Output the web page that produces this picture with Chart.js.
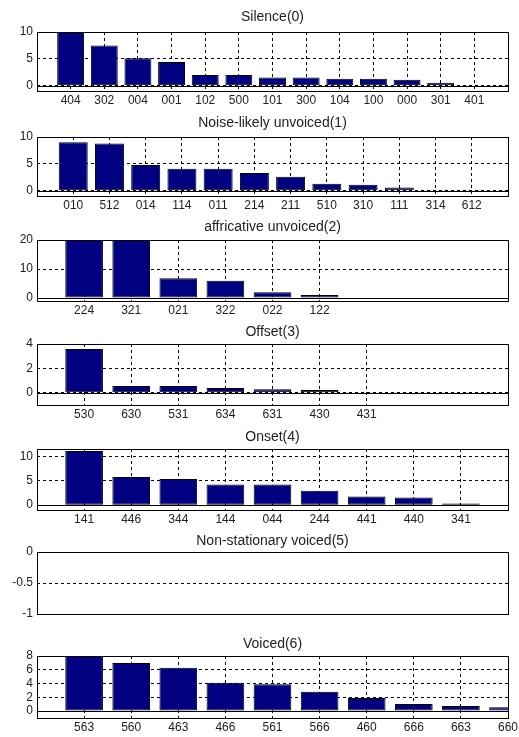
<!DOCTYPE html>
<html>
<head>
<meta charset="utf-8">
<script src="https://cdn.jsdelivr.net/npm/chart.js@4.4.1/dist/chart.umd.min.js"></script>
<style>
  body { margin: 0; background: #fff; width: 519px; height: 737px; position: relative; overflow: hidden; }
  canvas { position: absolute; left: 0; }
</style>
</head>
<body>
<script>
// values
const silenceCodes = ["404", "302", "004", "001", "102", "500", "101", "300", "104", "100", "000", "301", "401"];
const silenceCounts = [10, 7.5, 5.1, 4.4, 2.0, 2.0, 1.5, 1.5, 1.3, 1.3, 1.1, 0.55, 0];
const silenceTicks = [0, 5, 10];

const noiseCodes = ["010", "512", "014", "114", "011", "214", "211", "510", "310", "111", "314", "612"];
const noiseCounts = [9.0, 8.8, 4.8, 4.1, 4.1, 3.3, 2.6, 1.3, 1.1, 0.6, 0.15, 0.15];
const noiseTicks = [0, 5, 10];

const affricCodes = ["224", "321", "021", "322", "022", "122"];
const affricCounts = [20, 20, 6.8, 6.0, 2.0, 1.1];
const affricTicks = [0, 10, 20];

const offsetCodes = ["530", "630", "531", "634", "631", "430", "431"];
const offsetCounts = [3.6, 0.55, 0.55, 0.4, 0.3, 0.22, 0];
const offsetTicks = [0, 2, 4];

const onsetCodes = ["141", "446", "344", "144", "044", "244", "441", "440", "341"];
const onsetCounts = [11.2, 5.8, 5.4, 4.25, 4.25, 3.0, 1.8, 1.6, 0.35];
const onsetTicks = [0, 5, 10];

const nonStatCodes = [];
const nonStatCounts = [];
const nonStatTicks = [-1, -0.5, 0];

const voicedCodes = ["563", "560", "463", "466", "561", "566", "460", "666", "663", "660"];
const voicedCounts = [8, 7.0, 6.3, 4.1, 3.9, 2.8, 1.9, 1.05, 0.75, 0.55];
const voicedTicks = [0, 2, 4, 6, 8];

const titles = ["Silence(0)", "Noise-likely unvoiced(1)", "affricative unvoiced(2)", "Offset(3)",
                "Onset(4)", "Non-stationary voiced(5)", "Voiced(6)"];

// axes layout (pixel box of each subplot) and ranges
const panels = [
  { codes: silenceCodes, counts: silenceCounts, yTicks: silenceTicks, xMax: 14, yMax: 10,   top: 32,  bottom: 91,  gap: 14.8 },
  { codes: noiseCodes,   counts: noiseCounts,   yTicks: noiseTicks,   xMax: 13, yMax: 10,   top: 137, bottom: 196, gap: 13.7 },
  { codes: affricCodes,  counts: affricCounts,  yTicks: affricTicks,  xMax: 10, yMax: 20,   top: 240, bottom: 301, gap: 12.5 },
  { codes: offsetCodes,  counts: offsetCounts,  yTicks: offsetTicks,  xMax: 10, yMax: 4,    top: 344, bottom: 405, gap: 12.3 },
  { codes: onsetCodes,   counts: onsetCounts,   yTicks: onsetTicks,   xMax: 10, yMax: 11.6, top: 449, bottom: 510, gap: 12.3 },
  { codes: nonStatCodes, counts: nonStatCounts, yTicks: nonStatTicks, xMax: 1,  yMax: 0,    top: 552, bottom: 614, gap: 11.2 },
  { codes: voicedCodes,  counts: voicedCounts,  yTicks: voicedTicks,  xMax: 10, yMax: 8,    top: 656, bottom: 718, gap: 11.8 }
];

const TOP_SPACE = 26;
const BOTTOM_SPACE = 22;
const LEFT_SPACE = 37;
const RIGHT_SPACE = 11;
const FONT = "'Liberation Sans', Arial, Helvetica, sans-serif";
const TITLE_SIZE = 14;

// solid zero baseline and the closed axes box, like matlab
const boxPlugin = {
  id: 'box',
  beforeDatasetsDraw(chart) {
    const { ctx, chartArea: a, scales } = chart;
    const y0 = Math.round(scales.y.getPixelForValue(0)) + 0.5;
    ctx.save();
    ctx.setLineDash([]);
    ctx.strokeStyle = '#000';
    ctx.lineWidth = 1;
    ctx.beginPath();
    ctx.moveTo(a.left, y0);
    ctx.lineTo(a.right, y0);
    ctx.stroke();
    ctx.restore();
  },
  afterDraw(chart) {
    const { ctx, chartArea: a } = chart;
    ctx.save();
    ctx.setLineDash([]);
    ctx.strokeStyle = '#000';
    ctx.lineWidth = 1;
    const l = Math.round(a.left) + 0.5, t = Math.round(a.top) + 0.5;
    const r = Math.round(a.right) + 0.5, b = Math.round(a.bottom) + 0.5;
    ctx.strokeRect(l, t, r - l, b - t);
    ctx.restore();
  }
};

panels.forEach(function (p, k) {
  const canvas = document.createElement('canvas');
  canvas.width = 519;
  canvas.height = p.bottom - p.top + TOP_SPACE + BOTTOM_SPACE;
  canvas.style.top = (p.top - TOP_SPACE) + 'px';
  document.body.appendChild(canvas);

  const lineH = TITLE_SIZE * 1.2;
  const padBottom = p.gap - lineH / 2;
  const padTop = TOP_SPACE - lineH - padBottom;
  const hasBars = p.codes.length > 0;

  new Chart(canvas, {
    type: 'bar',
    data: {
      datasets: [{
        data: p.counts.map((v, i) => ({ x: i + 1, y: v })),
        backgroundColor: '#000080',
        borderColor: '#000',
        borderWidth: 1,
        borderSkipped: false,
        barPercentage: 0.8,
        categoryPercentage: 1
      }]
    },
    options: {
      responsive: false,
      animation: false,
      layout: { padding: { left: 0, right: RIGHT_SPACE, top: 0, bottom: 0 } },
      plugins: {
        legend: { display: false },
        tooltip: { enabled: false },
        title: {
          display: true,
          text: titles[k],
          fullSize: false,
          color: '#222',
          font: { family: FONT, size: TITLE_SIZE, weight: 'normal' },
          padding: { top: padTop, bottom: padBottom }
        }
      },
      scales: {
        x: {
          type: 'linear',
          min: 0,
          max: p.xMax,
          offset: false,
          afterBuildTicks: s => { s.ticks = p.codes.map((c, i) => ({ value: i + 1 })); },
          afterFit: s => { s.height = BOTTOM_SPACE; s.paddingLeft = 0; s.paddingRight = 0; },
          ticks: {
            display: hasBars,
            autoSkip: false,
            maxRotation: 0,
            padding: 2,
            color: '#222',
            font: { family: FONT, size: 12 },
            callback: v => p.codes[v - 1]
          },
          grid: { display: hasBars, offset: false, color: '#000', lineWidth: 1, drawTicks: false },
          border: { display: false, dash: [3, 3] }
        },
        y: {
          min: -1,
          max: p.yMax,
          afterBuildTicks: s => { s.ticks = p.yTicks.map(v => ({ value: v })); },
          afterFit: s => { s.width = LEFT_SPACE; s.paddingTop = 0; s.paddingBottom = 0; },
          ticks: {
            autoSkip: false,
            padding: 4,
            color: '#222',
            font: { family: FONT, size: 12 },
            callback: v => String(v)
          },
          grid: {
            // lines that sit on the box edges are left to the box
            color: ctx => (ctx.tick && (ctx.tick.value === -1 || ctx.tick.value === p.yMax)) ? 'rgba(0,0,0,0)' : '#000',
            lineWidth: 1,
            drawTicks: false
          },
          border: { display: false, dash: [3, 3] }
        }
      }
    },
    plugins: [boxPlugin]
  });
});
</script>
</body>
</html>
